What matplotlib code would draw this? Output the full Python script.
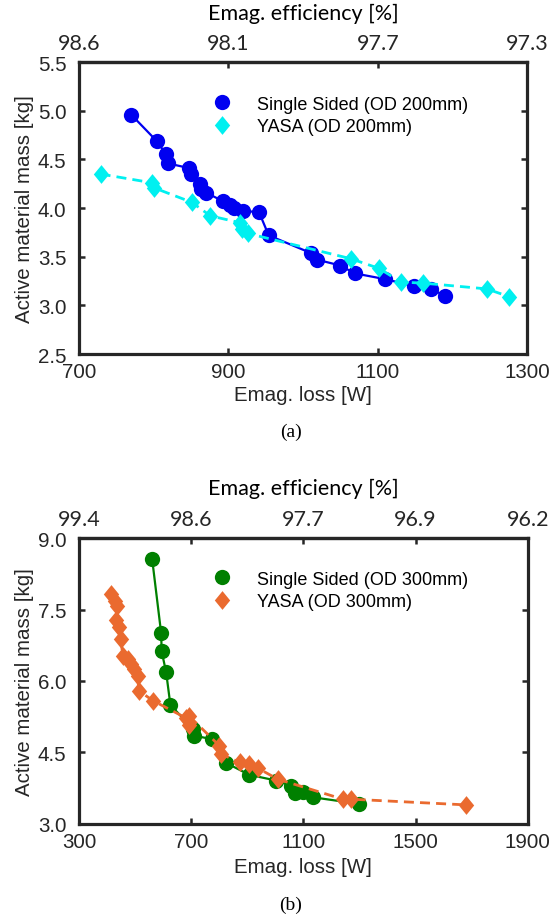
import matplotlib
matplotlib.use("Agg")
import matplotlib.pyplot as plt
from matplotlib.lines import Line2D

# ---------------- data ----------------
# (a) OD 200mm
ss200_loss = [770, 804, 816, 819, 848, 850, 862, 864, 870, 893, 902, 908, 919, 941, 954,
              1010, 1019, 1050, 1069, 1110, 1148, 1171, 1190]
ss200_mass = [4.96, 4.69, 4.56, 4.46, 4.41, 4.35, 4.25, 4.20, 4.16, 4.07, 4.03, 4.00, 3.97, 3.96, 3.72,
              3.54, 3.47, 3.41, 3.33, 3.27, 3.20, 3.17, 3.10]
yasa200_loss = [729, 798, 800, 851, 876, 916, 918, 926, 1064, 1102, 1131, 1160, 1246, 1276]
yasa200_mass = [4.35, 4.26, 4.21, 4.06, 3.92, 3.85, 3.79, 3.74, 3.48, 3.38, 3.24, 3.23, 3.17, 3.09]

# (b) OD 300mm
ss300_loss = [561, 593, 595, 611, 626, 705, 712, 775, 825, 908, 1004, 1057, 1069, 1098, 1134, 1300]
ss300_mass = [8.56, 7.01, 6.62, 6.18, 5.50, 5.00, 4.85, 4.78, 4.28, 4.03, 3.91, 3.80, 3.65, 3.68, 3.56, 3.42]
yasa300_loss = [415, 427, 435, 433, 444, 450, 456, 474, 486, 498, 510, 513, 563, 683, 694, 692,
                801, 807, 873, 908, 938, 1009, 1241, 1271, 1681]
yasa300_mass = [7.83, 7.68, 7.57, 7.27, 7.13, 6.88, 6.53, 6.46, 6.36, 6.25, 6.11, 5.80, 5.59, 5.22, 5.08, 5.27,
                4.64, 4.47, 4.29, 4.26, 4.17, 3.94, 3.52, 3.52, 3.40]

# axes ticks
a_xticks = [700, 900, 1100, 1300]
a_eff_labels = ["98.6", "98.1", "97.7", "97.3"]
a_yticks = [2.5, 3.0, 3.5, 4.0, 4.5, 5.0, 5.5]
b_xticks = [300, 700, 1100, 1500, 1900]
b_eff_labels = ["99.4", "98.6", "97.7", "96.9", "96.2"]
b_yticks = [3.0, 4.5, 6.0, 7.5, 9.0]

labels_a = ["Single Sided (OD 200mm)", "YASA (OD 200mm)"]
labels_b = ["Single Sided (OD 300mm)", "YASA (OD 300mm)"]

# ---------------- style ----------------
SANS = "Liberation Sans"
CAL = "Lato"
DARK = "#262626"
BLUE = "#0000F0"
CYAN = "#00F0F0"
GREEN = "#008000"
ORANGE = "#EA6A2F"
FS = 14.8
EFS = 15.5

diamond = [(0, 1), (0.82, 0), (0, -1), (-0.82, 0), (0, 1)]
MS_C = 11
MS_D = 13.5

fig = plt.figure(figsize=(5.52, 9.2), dpi=100)


def make_axes(rect, xticks, eff_labels, yticks, xlim, ylim, xlab_y, toplab_y):
    ax = fig.add_axes(rect)
    ax.set_xlim(*xlim)
    ax.set_ylim(*ylim)
    ax.set_xticks(xticks)
    ax.set_xticklabels([str(t) for t in xticks], family=SANS, fontsize=FS, color=DARK)
    ax.set_yticks(yticks)
    ax.set_yticklabels(["{:.1f}".format(t) for t in yticks], family=SANS, fontsize=FS, color=DARK)
    ax.tick_params(direction="in", length=4, width=1.8, colors=DARK, right=True, top=False)
    ax.tick_params(axis="x", pad=5.5)
    ax.tick_params(axis="y", pad=9)
    for s in ax.spines.values():
        s.set_linewidth(2.3)
        s.set_color(DARK)
    sec = ax.secondary_xaxis("top")
    sec.set_xticks(xticks)
    sec.set_xticklabels(eff_labels, family=CAL, fontsize=EFS, color="black")
    sec.tick_params(direction="in", length=4, width=1.8, colors=DARK, pad=6.5)
    sec.spines["top"].set_linewidth(2.3)
    sec.spines["top"].set_color(DARK)
    ax.text(0.5, toplab_y, "Emag. efficiency [%]", family=CAL, fontsize=EFS,
            ha="center", va="bottom", transform=ax.transAxes)
    ax.set_xlabel("Emag. loss [W]", family=SANS, fontsize=FS, color=DARK)
    ax.xaxis.set_label_coords(0.5, xlab_y)
    ax.set_ylabel("Active material mass [kg]", family=SANS, fontsize=FS, color=DARK)
    ax.yaxis.set_label_coords(-0.10, 0.5)
    return ax


def add_legend(ax, colors, markers, labels, top):
    hs = [Line2D([], [], ls="none", marker=m, ms=(MS_C if m == "o" else MS_D), color=c,
                 markeredgewidth=0) for c, m in zip(colors, markers)]
    ax.legend(hs, labels, loc="upper left", bbox_to_anchor=(0.295, top), frameon=False,
              prop={"family": SANS, "size": 13}, handlelength=1.2, handletextpad=1.35,
              labelspacing=0.3, borderpad=0, borderaxespad=0)


# (a)
axa = make_axes([0.143, 0.614, 0.812, 0.3174], a_xticks, a_eff_labels, a_yticks,
                (700, 1300), (2.5, 5.5), -0.106, 1.133)
axa.plot(ss200_loss, ss200_mass, "-", color=BLUE, lw=1.6, marker="o", ms=MS_C,
         markeredgewidth=0, zorder=3)
axa.plot(yasa200_loss, yasa200_mass, color=CYAN, lw=2.0, ls=(0, (3.6, 2.2)), marker=diamond,
         ms=MS_D, markeredgewidth=0, zorder=4)
add_legend(axa, [BLUE, CYAN], ["o", diamond], labels_a, 0.885)

# (b)
axb = make_axes([0.143, 0.1033, 0.813, 0.3108], b_xticks, b_eff_labels, b_yticks,
                (300, 1900), (3.0, 9.0), -0.115, 1.14)
axb.plot(ss300_loss, ss300_mass, "-", color=GREEN, lw=1.6, marker="o", ms=MS_C,
         markeredgewidth=0, zorder=3)
axb.plot(yasa300_loss, yasa300_mass, color=ORANGE, lw=2.0, ls=(0, (3.6, 2.2)), marker=diamond,
         ms=MS_D, markeredgewidth=0, zorder=4)
add_legend(axb, [GREEN, ORANGE], ["o", diamond], labels_b, 0.886)

fig.text(291 / 552, 1 - 432 / 920, "(a)", family="Liberation Serif", fontsize=14,
         ha="center", va="center")
fig.text(291 / 552, 1 - 905 / 920, "(b)", family="Liberation Serif", fontsize=14,
         ha="center", va="center")

fig.savefig("out.png", dpi=100)
